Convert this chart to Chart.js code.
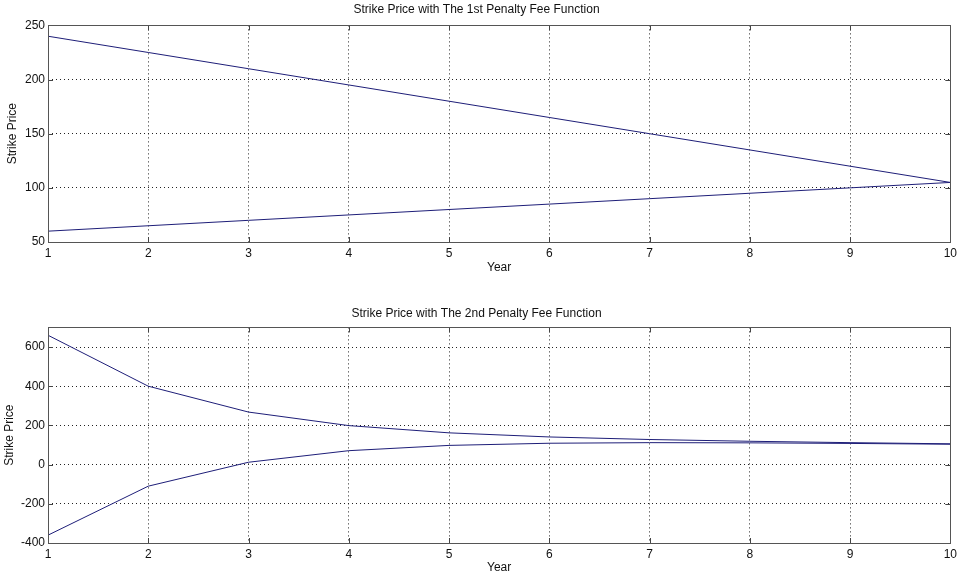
<!DOCTYPE html>
<html>
<head>
<meta charset="utf-8">
<script src="https://cdn.jsdelivr.net/npm/chart.js@4/dist/chart.umd.min.js"></script>
<style>
    body { margin: 0; background: #fff; overflow: hidden; }
    canvas { position: absolute; left: 0; }
    #chart1 { top: 0; }
    #chart2 { top: 290px; }
</style>
</head>
<body>
<canvas id="chart1" width="961" height="285"></canvas>
<canvas id="chart2" width="961" height="285"></canvas>
<script>
const years = [1, 2, 3, 4, 5, 6, 7, 8, 9, 10];

// 1st penalty fee function
const upper1 = [240, 225, 210, 195, 180, 165, 150, 135, 120, 105];
const lower1 = [60, 65, 70, 75, 80, 85, 90, 95, 100, 105];

// 2nd penalty fee function
const upper2 = [660, 400, 268, 199, 162, 141, 128, 119, 112, 106];
const lower2 = [-360, -110, 12, 71, 98, 109, 112, 111, 108, 104];

const yTicks1 = [50, 100, 150, 200, 250];
const yTicks2 = [-400, -200, 0, 200, 400, 600];

const lineColor = '#1e1e78';
const font = { family: "'Liberation Sans', Arial, sans-serif", size: 12 };

function toPoints(values) {
    return years.map((y, i) => ({ x: y, y: values[i] }));
}

// matlab style box with inward ticks
const boxPlugin = {
    id: 'box',
    afterDraw(chart) {
        const { ctx, chartArea: a, scales } = chart;
        ctx.save();
        ctx.strokeStyle = '#444';
        ctx.lineWidth = 1;
        ctx.beginPath();
        scales.x.ticks.forEach(t => {
            const px = Math.round(scales.x.getPixelForValue(t.value)) + 0.5;
            ctx.moveTo(px, a.bottom); ctx.lineTo(px, a.bottom - 5);
            ctx.moveTo(px, a.top); ctx.lineTo(px, a.top + 5);
        });
        scales.y.ticks.forEach(t => {
            const py = Math.round(scales.y.getPixelForValue(t.value)) + 0.5;
            ctx.moveTo(a.left, py); ctx.lineTo(a.left + 5, py);
            ctx.moveTo(a.right, py); ctx.lineTo(a.right - 5, py);
        });
        ctx.stroke();
        ctx.strokeStyle = '#555';
        ctx.strokeRect(Math.round(a.left) + 0.5, Math.round(a.top) + 0.5,
            Math.round(a.right - a.left), Math.round(a.bottom - a.top));
        ctx.restore();
    }
};

function makeChart(id, title, upper, lower, yMin, yMax, yStep, yTicks, opts) {
    const ctx = document.getElementById(id).getContext('2d');
    return new Chart(ctx, {
        type: 'line',
        data: {
            datasets: [
                { data: toPoints(upper), borderColor: lineColor, borderWidth: 1, pointRadius: 0, fill: false, tension: 0 },
                { data: toPoints(lower), borderColor: lineColor, borderWidth: 1, pointRadius: 0, fill: false, tension: 0 }
            ]
        },
        options: {
            responsive: false,
            animation: false,
            layout: { padding: { top: opts.padTop, right: 8, left: 0, bottom: 0 } },
            plugins: {
                legend: { display: false },
                tooltip: { enabled: false },
                title: {
                    display: true,
                    text: title,
                    color: '#111',
                    font: { family: font.family, size: 12, weight: 'normal' },
                    padding: { top: opts.titleTop, bottom: opts.titleBottom }
                }
            },
            scales: {
                x: {
                    type: 'linear',
                    min: 1,
                    max: 10,
                    ticks: { stepSize: 1, color: '#111', font: font, padding: 4, maxRotation: 0 },
                    grid: { color: '#222', lineWidth: 1, drawTicks: false },
                    border: { display: false, dash: [1, 3] },
                    title: { display: true, text: 'Year', color: '#111', font: font, padding: { top: 0, bottom: opts.xTitleBottom } },
                    afterFit: s => { s.height = opts.xHeight; }
                },
                y: {
                    min: yMin,
                    max: yMax,
                    ticks: { stepSize: yStep, color: '#111', font: font, padding: 3 },
                    afterBuildTicks: s => { s.ticks = yTicks.map(v => ({ value: v })); },
                    grid: { color: '#222', lineWidth: 1, drawTicks: false },
                    border: { display: false, dash: [1, 3] },
                    title: { display: true, text: 'Strike Price', color: '#111', font: font, padding: { top: opts.yTitleTop, bottom: 0 } },
                    afterFit: s => { s.width = 48; }
                }
            }
        },
        plugins: [boxPlugin]
    });
}

makeChart('chart1', 'Strike Price with The 1st Penalty Fee Function', upper1, lower1, 50, 250, 50, yTicks1,
    { padTop: 0, titleTop: 2, titleBottom: 9, xHeight: 43, xTitleBottom: 10, yTitleTop: 5 });
makeChart('chart2', 'Strike Price with The 2nd Penalty Fee Function', upper2, lower2, -400, 700, 200, yTicks2,
    { padTop: 12, titleTop: 4, titleBottom: 7, xHeight: 32, xTitleBottom: 0, yTitleTop: 2 });
</script>
</body>
</html>
